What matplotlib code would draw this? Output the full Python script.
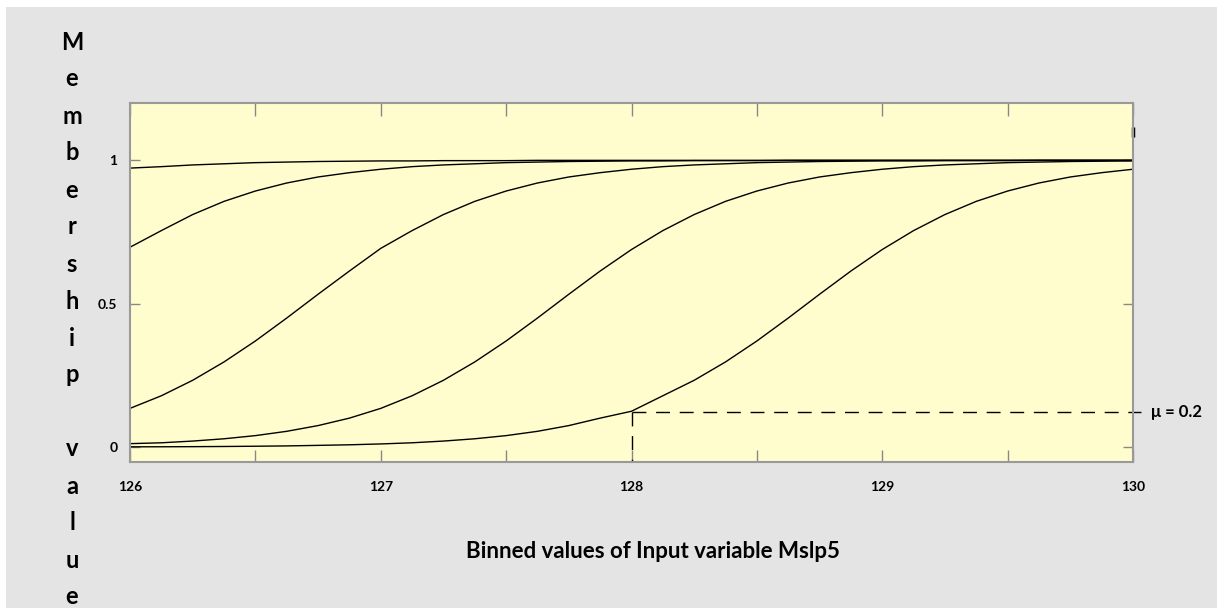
import matplotlib
matplotlib.use('Agg')
import matplotlib.pyplot as plt
from matplotlib.patches import Rectangle

plt.rcParams['font.family'] = ['Lato', 'DejaVu Sans']

# binned input values (x axis)
x_vals = [126, 126.125, 126.25, 126.375, 126.5, 126.625, 126.75, 126.875,
          127, 127.125, 127.25, 127.375, 127.5, 127.625, 127.75, 127.875,
          128, 128.125, 128.25, 128.375, 128.5, 128.625, 128.75, 128.875,
          129, 129.125, 129.25, 129.375, 129.5, 129.625, 129.75, 129.875,
          130]

# membership values, one list per curve
mf1 = [0.973, 0.978, 0.984, 0.988, 0.992, 0.994, 0.996, 0.997,
       0.998, 0.998, 0.999, 0.999, 0.999, 1.0, 1.0, 1.0,
       1.0, 1.0, 1.0, 1.0, 1.0, 1.0, 1.0, 1.0,
       1.0, 1.0, 1.0, 1.0, 1.0, 1.0, 1.0, 1.0, 1.0]
mf2 = [0.697, 0.755, 0.811, 0.857, 0.893, 0.921, 0.942, 0.957,
       0.969, 0.978, 0.984, 0.988, 0.992, 0.994, 0.996, 0.997,
       0.998, 0.998, 0.999, 0.999, 0.999, 1.0, 1.0, 1.0,
       1.0, 1.0, 1.0, 1.0, 1.0, 1.0, 1.0, 1.0, 1.0]
mf3 = [0.135, 0.179, 0.233, 0.297, 0.370, 0.450, 0.533, 0.614,
       0.693, 0.755, 0.811, 0.857, 0.893, 0.921, 0.942, 0.957,
       0.969, 0.978, 0.984, 0.988, 0.992, 0.994, 0.996, 0.997,
       0.998, 0.998, 0.999, 0.999, 0.999, 1.0, 1.0, 1.0, 1.0]
mf4 = [0.012, 0.015, 0.021, 0.029, 0.040, 0.055, 0.075, 0.101,
       0.135, 0.179, 0.233, 0.297, 0.370, 0.450, 0.533, 0.614,
       0.689, 0.755, 0.811, 0.857, 0.893, 0.921, 0.942, 0.957,
       0.969, 0.978, 0.984, 0.988, 0.992, 0.994, 0.996, 0.997, 0.998]
mf5 = [0.001, 0.0011, 0.0015, 0.0021, 0.003, 0.0041, 0.006, 0.008,
       0.011, 0.015, 0.021, 0.029, 0.040, 0.055, 0.075, 0.101,
       0.125, 0.179, 0.233, 0.297, 0.370, 0.450, 0.533, 0.614,
       0.689, 0.755, 0.811, 0.857, 0.893, 0.921, 0.942, 0.957, 0.969]

x_ticks = [126, 126.5, 127, 127.5, 128, 128.5, 129, 129.5, 130]
x_ticklabels = ['126', '', '127', '', '128', '', '129', '', '130']
y_ticks = [0, 0.5, 1]
y_ticklabels = ['0', '0.5', '1']

mu_x = 128
mu_y = 0.122
mu_text = 'μ = 0.2'

W, H = 1227, 608
fig = plt.figure(figsize=(W / 100, H / 100), dpi=100)
fig.patch.set_facecolor('white')
# grey panel behind everything
fig.patches.append(Rectangle((6 / W, 0), (1217 - 6) / W, (H - 7) / H,
                             transform=fig.transFigure, facecolor='#e4e4e4',
                             edgecolor='none', zorder=-10))

ax = fig.add_axes([130 / W, (H - 462) / H, 1003 / W, 359 / H])
ax.set_facecolor('#fffdcd')

for s in [mf1, mf2, mf3, mf4, mf5]:
    ax.plot(x_vals, s, color='black', lw=1.0)

# dashed guide lines
ax.plot([mu_x, 130.03], [mu_y, mu_y], color='black', lw=1.0,
        dashes=(10, 7), clip_on=False)
ax.plot([mu_x, mu_x], [mu_y, -0.05], color='black', lw=1.0, dashes=(10, 7))
ax.text(130.07, mu_y, mu_text, ha='left', va='center', fontsize=12,
        fontweight='bold', clip_on=False)
# small mark on the right edge
ax.plot([130], [1.1], marker='|', color='black', ms=7, mew=2.5, clip_on=False)

ax.set_xlim(126, 130)
ax.set_ylim(-0.052, 1.2)
ax.set_xticks(x_ticks)
ax.set_xticklabels(x_ticklabels, fontsize=10, fontweight='bold')
ax.set_yticks(y_ticks)
ax.set_yticklabels(y_ticklabels, fontsize=10, fontweight='bold')
ax.tick_params(axis='x', direction='in', length=9, width=1, color='#888888',
               top=True, pad=14)
ax.tick_params(axis='y', direction='in', length=7, width=1, color='#888888',
               right=True, pad=9)
for sp in ax.spines.values():
    sp.set_color('#999999')
    sp.set_linewidth(1.5)

fig.text(653 / W, 1 - 552 / H, 'Binned values of Input variable Mslp5',
         ha='center', va='center', fontsize=16, fontweight='bold')

# vertical y label, one letter per line
letters = 'Membership value'
for i, ch in enumerate(letters):
    if ch == ' ':
        continue
    fig.text(72 / W, 1 - (42 + i * 37) / H, ch, ha='center', va='center',
             fontsize=17, fontweight='bold')

fig.savefig('out.png', dpi=100)
